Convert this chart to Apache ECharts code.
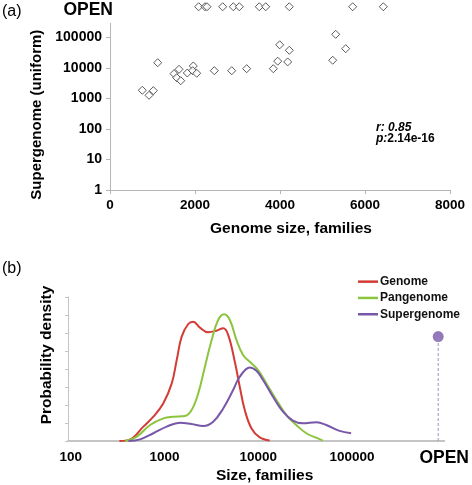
<!DOCTYPE html>
<html><head><meta charset="utf-8">
<script src="https://cdn.jsdelivr.net/npm/echarts@6/dist/echarts.min.js"></script>
<style>html,body{margin:0;padding:0;background:#fff}#c{width:472px;height:485px}</style>
</head><body><div id="c"></div>
<script>
// ---------- Panel (a): scatter ----------
const genomeSize   = [760, 918, 1019, 1122, 1506, 1569, 1624, 1664, 1819, 1960, 1946, 2040, 2454, 2864, 3216, 3842, 3946, 3993, 4181, 4219, 5240, 5311, 5546];
const supergenome  = [1840, 1260, 1790, 14700, 6440, 4760, 8940, 3790, 6780, 11500, 8060, 6630, 8060, 8060, 9370, 9370, 16500, 56700, 15600, 37500, 17700, 125000, 42400];
const openGenomeSize = [2086, 2235, 2283, 2651, 2902, 3043, 3513, 3664, 4219, 5710, 6431];
const OPEN_Y = 1000000;            // where "OPEN" supergenomes are drawn
const yMaxA = 287000;
const xTicksA = [0, 2000, 4000, 6000, 8000];
const yTicksA = [1, 10, 100, 1000, 10000, 100000];

// ---------- Panel (b): densities ----------
const genomeX = [330, 430, 594, 760, 971, 1194, 1349, 1524, 1791, 2023, 2388, 2924, 3589, 4227, 4775, 5623, 6353, 7178, 8472, 10375, 13243];
const genomeD = [0, 0.09, 0.8, 1.35, 2.1, 3.2, 4.5, 5.8, 6.5, 6.63, 6.3, 6.04, 6.13, 6.26, 5.9, 4.4, 3.0, 1.72, 0.7, 0.2, 0.03];
const panX = [380, 506, 701, 971, 1242, 1652, 1945, 2291, 2698, 3177, 3733, 4325, 4977, 5861, 6887, 8128, 9954, 12218, 15631, 19953, 25468, 32584, 45082, 48865];
const panD = [0, 0.24, 0.89, 1.26, 1.35, 1.39, 1.72, 2.65, 4.13, 5.6, 6.72, 7.04, 6.72, 5.6, 4.78, 4.4, 3.94, 3.2, 2.28, 1.44, 0.89, 0.43, 0.1, 0.02];
const superX = [412, 548, 760, 1054, 1462, 1945, 2588, 3304, 4227, 5395, 6353, 8128, 9572, 11246, 14355, 18365, 23442, 29992, 41591, 53211, 73621, 97949];
const superD = [0, 0.09, 0.43, 0.8, 1.02, 0.94, 0.83, 1.07, 1.81, 2.83, 3.57, 4.09, 3.9, 3.39, 2.46, 1.63, 1.13, 0.98, 1.04, 0.89, 0.56, 0.43];
const OPEN_X = 832000;             // position of the "OPEN" category
const OPEN_D = 5.8;                // supergenome density at OPEN
const xTicksB = [100, 1000, 10000, 100000];
const xMinB = 93.3, xMaxB = 966000;
const seriesNames = ['Genome', 'Pangenome', 'Supergenome'];

const FONT = "'Liberation Sans', Arial, Helvetica, sans-serif";
const RED = '#d23c35', GREEN = '#8cc43e', PURPLE = '#7857a8';
const AXIS = '#b5b5b5';

const zip = (a, b) => a.map((v, i) => [v, b[i]]);

const chart = echarts.init(document.getElementById('c'), null, {renderer: 'canvas'});

const boldLabel = {fontFamily: FONT, fontWeight: 'bold', fontSize: 13.5, color: '#000'};
const nameStyle = (pad) => ({fontFamily: FONT, fontWeight: 'bold', fontSize: 15.5, color: '#000', padding: pad});

const option = {
  animation: false,
  backgroundColor: '#fff',
  grid: [
    {left: 110, right: 22, top: 23.3, bottom: 295},
    {left: 68, right: 27, top: 297, bottom: 44}
  ],
  xAxis: [
    {
      gridIndex: 0, type: 'value', min: xTicksA[0], max: xTicksA[xTicksA.length - 1], interval: 2000,
      axisLine: {onZero: false, lineStyle: {color: AXIS, width: 1}},
      axisTick: {show: true, length: 4, lineStyle: {color: AXIS}},
      splitLine: {show: false},
      axisLabel: Object.assign({margin: 8, formatter: v => String(v)}, boldLabel),
      name: 'Genome size, families', nameLocation: 'middle', nameGap: 31,
      nameTextStyle: nameStyle([0, 0, 0, 22])
    },
    {
      gridIndex: 1, type: 'log', min: xMinB, max: xMaxB,
      axisLine: {onZero: false, lineStyle: {color: '#c4c4c4', width: 2}},
      axisTick: {show: false},
      splitLine: {show: false},
      axisLabel: Object.assign({
        margin: 9,
        customValues: xTicksB.concat([OPEN_X]),
        formatter: v => (v >= 500000 ? '{o|OPEN}' : String(Math.round(v))),
        rich: {o: {fontFamily: FONT, fontWeight: 'bold', fontSize: 17.5, color: '#000', lineHeight: 16, padding: [0, 0, 0, 12]}}
      }, boldLabel),
      name: 'Size, families', nameLocation: 'middle', nameGap: 24,
      nameTextStyle: nameStyle([0, 0, 0, 17])
    }
  ],
  yAxis: [
    {
      gridIndex: 0, type: 'log', min: yTicksA[0], max: yMaxA,
      axisLine: {show: true, lineStyle: {color: AXIS, width: 1}},
      axisTick: {show: true, length: 4, lineStyle: {color: AXIS}, customValues: yTicksA},
      splitLine: {show: false},
      axisLabel: Object.assign({margin: 8, customValues: yTicksA, formatter: v => String(Math.round(v))}, boldLabel, {fontSize: 14}),
      name: 'Supergenome (uniform)', nameLocation: 'middle', nameGap: 66,
      nameTextStyle: Object.assign(nameStyle([0, 16, 0, 0]), {fontSize: 15})
    },
    {
      gridIndex: 1, type: 'value', min: 0, max: 8, interval: 1,
      axisLine: {show: true, lineStyle: {color: '#c4c4c4', width: 1}},
      axisTick: {show: true, length: 3, lineStyle: {color: '#c4c4c4'}},
      splitLine: {show: false},
      axisLabel: {show: false},
      name: 'Probability density', nameLocation: 'middle', nameGap: 13,
      nameTextStyle: nameStyle([0, 0, 0, 28])
    }
  ],
  legend: {
    data: seriesNames, orient: 'vertical', left: 353, top: 269.5,
    icon: 'rect', itemWidth: 20, itemHeight: 2.5, itemGap: 2,
    textStyle: {fontFamily: FONT, fontWeight: 'bold', fontSize: 12, color: '#111', lineHeight: 14.3, padding: [0, 0, 0, -3]}
  },
  series: [
    {
      type: 'scatter', xAxisIndex: 0, yAxisIndex: 0, name: 'closed',
      data: zip(genomeSize, supergenome), symbol: 'diamond', symbolSize: 8,
      itemStyle: {color: '#fff', borderColor: '#333', borderWidth: 1}
    },
    {
      type: 'scatter', xAxisIndex: 0, yAxisIndex: 0, name: 'open', clip: false,
      data: openGenomeSize.map(x => [x, OPEN_Y]), symbol: 'diamond', symbolSize: 8,
      itemStyle: {color: '#fff', borderColor: '#333', borderWidth: 1}
    },
    {
      type: 'line', xAxisIndex: 1, yAxisIndex: 1, name: seriesNames[0], data: zip(genomeX, genomeD),
      smooth: 0.4, showSymbol: false, symbol: 'none', color: RED, lineStyle: {color: RED, width: 2}
    },
    {
      type: 'line', xAxisIndex: 1, yAxisIndex: 1, name: seriesNames[1], data: zip(panX, panD),
      smooth: 0.4, showSymbol: false, symbol: 'none', color: GREEN, lineStyle: {color: GREEN, width: 2}
    },
    {
      type: 'line', xAxisIndex: 1, yAxisIndex: 1, name: seriesNames[2], data: zip(superX, superD),
      smooth: 0.4, showSymbol: false, symbol: 'none', color: PURPLE, lineStyle: {color: PURPLE, width: 2}
    },
    {
      type: 'line', xAxisIndex: 1, yAxisIndex: 1, name: 'openStem', data: [[OPEN_X, 0], [OPEN_X, OPEN_D]],
      showSymbol: false, symbol: 'none', lineStyle: {color: '#a48bc6', width: 1, type: [3, 2]}
    },
    {
      type: 'scatter', xAxisIndex: 1, yAxisIndex: 1, name: 'openDot', data: [[OPEN_X, OPEN_D]],
      symbol: 'circle', symbolSize: 11, itemStyle: {color: PURPLE}
    }
  ]
};
chart.setOption(option);

// Text annotations (positions derived from the axes where they belong to data)
const openPix = chart.convertToPixel({yAxisIndex: 0}, OPEN_Y);
const axisXPix = chart.convertToPixel({xAxisIndex: 0}, 0);
chart.setOption({
  graphic: [
    {type: 'text', left: 2, top: 4, style: {text: '(a)', font: "16px " + FONT, fill: '#000'}},
    {type: 'text', left: 2, top: 261, style: {text: '(b)', font: "16px " + FONT, fill: '#000'}},
    {type: 'text', x: axisXPix + 3, y: openPix + 3.5, style: {text: 'OPEN', font: "bold 17.5px " + FONT, fill: '#000', align: 'right', verticalAlign: 'middle'}},
    {type: 'text', left: 376, top: 122, style: {text: 'r: 0.85', font: "italic bold 12px " + FONT, fill: '#000'}},
    {type: 'text', left: 376, top: 132.5, style: {
      text: '{a|p:}{b|2.14e-16}',
      rich: {a: {font: "italic bold 12px " + FONT, fill: '#000'}, b: {font: "bold 12px " + FONT, fill: '#000'}}
    }}
  ]
});
</script>
</body></html>
